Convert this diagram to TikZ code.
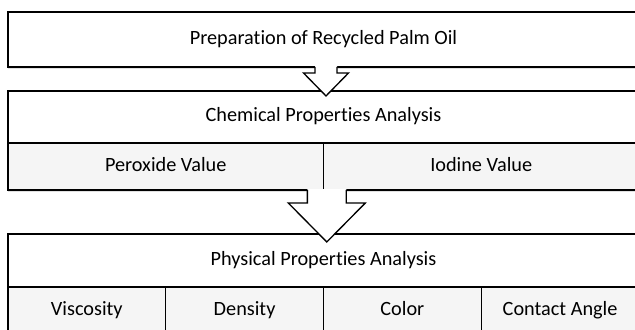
\documentclass[tikz,border=0pt]{standalone}
\usepackage{fontspec}
\setmainfont{Carlito}[Ligatures=NoCommon]
\usepackage{tikz}
\usetikzlibrary{positioning, calc, shadows}
\tikzstyle{titlebox} = [
  rectangle, draw=black, line width=1pt, fill=white,
  minimum width=473.25pt, outer sep=0pt,
  drop shadow={shadow xshift=0pt, shadow yshift=-1.5pt,
               fill=black!30, opacity=0.4},
  text centered, text height=10.5pt, text depth=3pt,
  font=\fontsize{15.2}{18}\selectfont
]
\tikzstyle{cellbox} = [
  titlebox, fill=black!4, minimum height=35.25pt
]
\tikzstyle{flowline} = [
  draw=black, line width=1pt, line join=miter
]

\begin{document}
\begin{tikzpicture}
  \clip (0,0) rectangle (476.25pt,-246.75pt);

  % ── Preparation ───────────────────────────────────────
  \node[titlebox, minimum height=41.25pt] (prep) at (242.6pt,-29.6pt)
    {Preparation of Recycled Palm Oil};

  % ── Chemical properties ───────────────────────────────
  \node[titlebox, minimum height=39pt, below=18pt of prep]
    (chem) {Chemical Properties Analysis};
  \node[cellbox, minimum width=236.625pt, anchor=north west]
    (perox) at (chem.south west) {Peroxide Value};
  \node[cellbox, minimum width=236.625pt, right=0pt of perox]
    (iodine) {Iodine Value};

  % ── Physical properties ───────────────────────────────
  \node[titlebox, minimum height=39.75pt, below=33pt of perox.south east]
    (phys) {Physical Properties Analysis};
  \node[cellbox, minimum width=118.3125pt, anchor=north west]
    (visc) at (phys.south west) {Viscosity};
  \node[cellbox, minimum width=118.3125pt, right=0pt of visc]
    (dens) {Density};
  \node[cellbox, minimum width=118.3125pt, right=0pt of dens]
    (color) {Color};
  \node[cellbox, minimum width=118.3125pt, right=0pt of color]
    (angle) {Contact Angle};

  % ── Arrows ────────────────────────────────────────────
  \coordinate (a1) at ($(prep.south)+(1.9pt,0)$);
  \fill[white, shift={(a1)}] (-8.25pt,0.7pt) -- (-8.25pt,-4.5pt)
    -- (-16.9pt,-4.5pt) -- (0,-21.75pt) -- (16.9pt,-4.5pt)
    -- (8.25pt,-4.5pt) -- (8.25pt,0.7pt) -- cycle;
  \draw[flowline, shift={(a1)}] (-8.25pt,0) -- (-8.25pt,-4.5pt)
    -- (-16.9pt,-4.5pt) -- (0,-21.75pt) -- (16.9pt,-4.5pt)
    -- (8.25pt,-4.5pt) -- (8.25pt,0);

  \coordinate (a2) at ($(perox.south east)+(2.5pt,0)$);
  \fill[white, shift={(a2)}] (-14.6pt,0.7pt) -- (-14.6pt,-9.75pt)
    -- (-28.9pt,-9.75pt) -- (0,-39pt) -- (28.9pt,-9.75pt)
    -- (14.6pt,-9.75pt) -- (14.6pt,0.7pt) -- cycle;
  \draw[flowline, shift={(a2)}] (-14.6pt,0) -- (-14.6pt,-9.75pt)
    -- (-28.9pt,-9.75pt) -- (0,-39pt) -- (28.9pt,-9.75pt)
    -- (14.6pt,-9.75pt) -- (14.6pt,0);

\end{tikzpicture}
\end{document}
